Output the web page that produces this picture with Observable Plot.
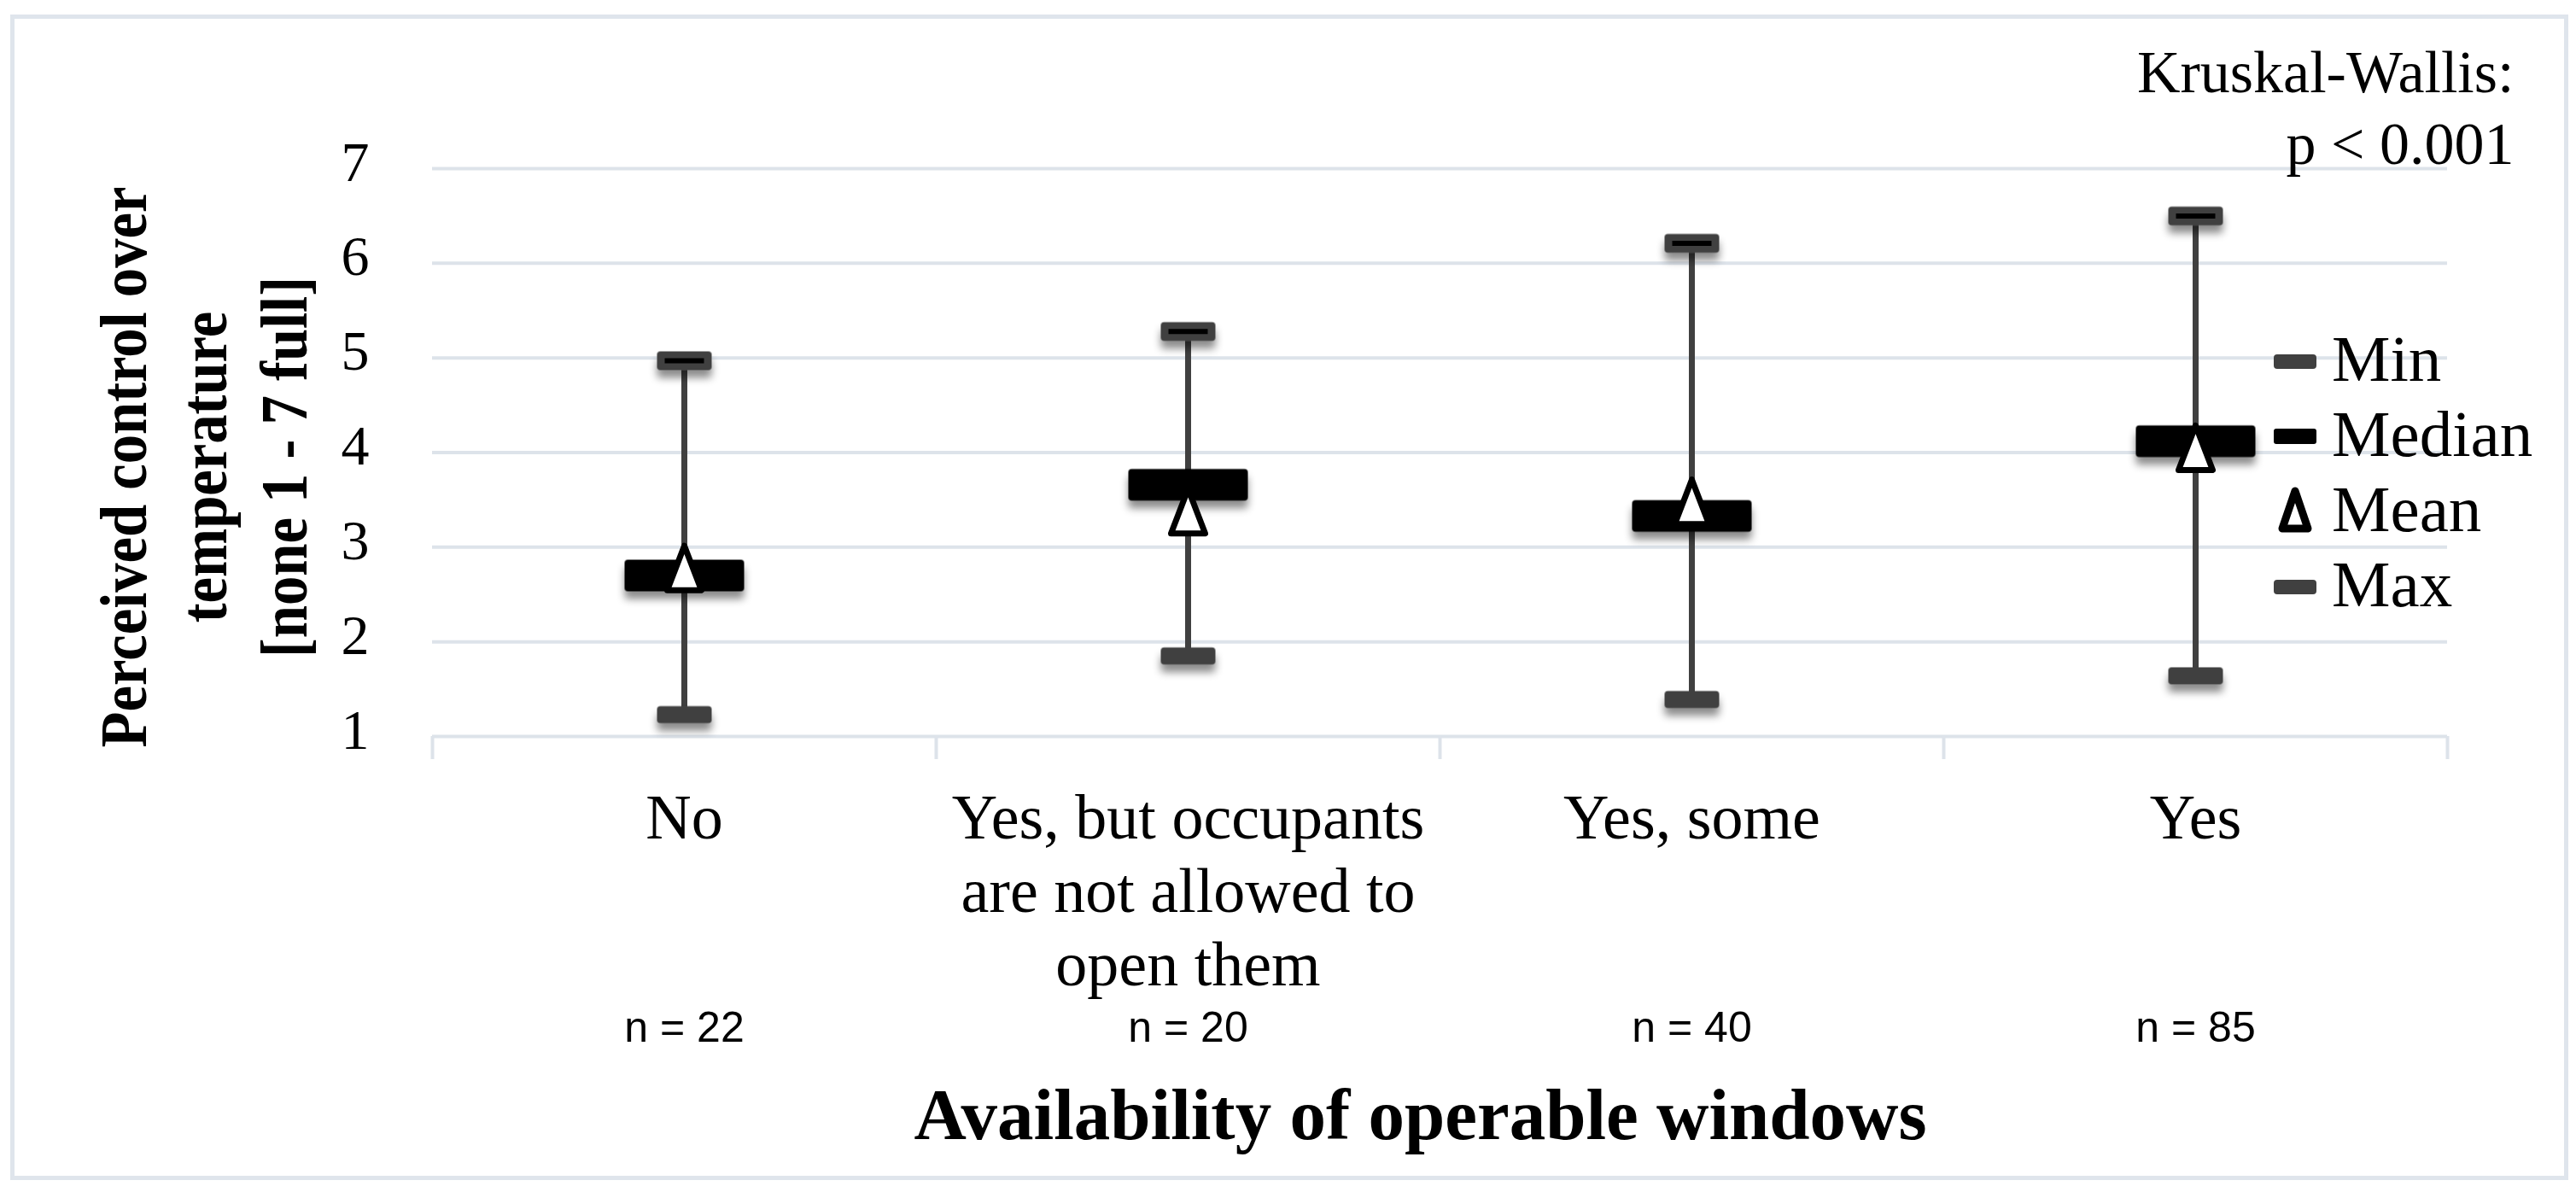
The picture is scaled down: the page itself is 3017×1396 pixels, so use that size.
<!DOCTYPE html>
<html>
<head>
<meta charset="utf-8">
<script src="https://cdn.jsdelivr.net/npm/d3@7"></script>
<script src="https://cdn.jsdelivr.net/npm/@observablehq/plot@0.6"></script>
<style>
  html, body { margin: 0; padding: 0; background: #fff; }
  #wrap { position: relative; width: 3017px; height: 1396px; background: #fff; overflow: hidden; }
  #border { position: absolute; left: 12px; top: 17px; width: 2996px; height: 1365px; border: 5px solid #dfe5ec; box-sizing: border-box; pointer-events: none; }
  #legend { position: absolute; left: 2655px; top: 376px; font-family: "Liberation Serif", serif; font-size: 77px; color: #000; }
  .lg-row { display: flex; align-items: center; height: 88px; line-height: 88px; }
  .lg-row svg { width: 66px; height: 70px; margin-right: 10px; position: relative; top: 6px; }
</style>
</head>
<body>
<div id="wrap">
  <div id="chart"></div>
  <div id="legend"></div>
  <div id="border"></div>
</div>
<script>
// ---- data ----
const categories = ["No", "Yes, but occupants\nare not allowed to\nopen them", "Yes, some", "Yes"];
const sampleSizes = [22, 20, 40, 85];
const minValues = [1.23, 1.85, 1.39, 1.64];
const medianValues = [2.70, 3.66, 3.33, 4.12];
const meanValues = [2.78, 3.38, 3.48, 4.05];
const maxValues = [4.97, 5.28, 6.21, 6.50];
const yTicks = [1, 2, 3, 4, 5, 6, 7];
const seriesNames = ["Min", "Median", "Mean", "Max"];
const yLabel = "Perceived control over\ntemperature\n[none 1 - 7 full]";
const xLabel = "Availability of operable windows";
const testNote = "Kruskal-Wallis:\np < 0.001";

const rows = categories.map((c, i) => ({
  pos: i + 0.5, cat: c, n: sampleSizes[i],
  min: minValues[i], median: medianValues[i], mean: meanValues[i], max: maxValues[i]
}));
const bounds = d3.range(categories.length + 1);

// ---- custom marker shapes ----
function roundedRect(w, h, r) {
  return {draw(ctx) {
    const x0 = -w / 2, y0 = -h / 2, x1 = w / 2, y1 = h / 2;
    if (r <= 0) { ctx.moveTo(x0, y0); ctx.lineTo(x1, y0); ctx.lineTo(x1, y1); ctx.lineTo(x0, y1); ctx.closePath(); return; }
    ctx.moveTo(x0 + r, y0);
    ctx.lineTo(x1 - r, y0);
    ctx.arcTo(x1, y0, x1, y0 + r, r);
    ctx.lineTo(x1, y1 - r);
    ctx.arcTo(x1, y1, x1 - r, y1, r);
    ctx.lineTo(x0 + r, y1);
    ctx.arcTo(x0, y1, x0, y1 - r, r);
    ctx.lineTo(x0, y0 + r);
    ctx.arcTo(x0, y0, x0 + r, y0, r);
    ctx.closePath();
  }};
}
function triangle(w, h) {
  return {draw(ctx) {
    ctx.moveTo(0, -h / 2);
    ctx.lineTo(w / 2, h / 2);
    ctx.lineTo(-w / 2, h / 2);
    ctx.closePath();
  }};
}
const capMin = roundedRect(64, 20, 4);
const capMax = roundedRect(64, 22, 4);
const capDash = roundedRect(46, 6, 0);
const medBox = roundedRect(140, 37, 4);
const meanTri = triangle(40, 52);

const DARK = "#404040";
const GRID = "#dde3ea";

const chart = Plot.plot({
  width: 3017,
  height: 1396,
  marginLeft: 506,
  marginRight: 151,
  marginTop: 197,
  marginBottom: 534,
  x: {type: "linear", domain: [0, categories.length]},
  y: {domain: [1, 7]},
  style: {fontFamily: "'Liberation Serif', serif", fontSize: "66px", color: "#000", background: "transparent"},
  marks: [
    Plot.gridY(yTicks, {stroke: GRID, strokeOpacity: 1, strokeWidth: 4}),
    Plot.axisX(bounds, {tickSize: 27, tickFormat: () => "", stroke: GRID, strokeWidth: 4, label: null}),
    Plot.axisY(yTicks, {tickSize: 0, tickPadding: 74, tickFormat: d => String(d), fontSize: 66, dy: -7, label: null}),
    Plot.text(rows, {x: "pos", text: "cat", frameAnchor: "bottom", lineAnchor: "top", dy: 59, fontSize: 74, lineHeight: 1.16}),
    Plot.text(rows, {x: "pos", text: d => `n = ${d.n}`, frameAnchor: "bottom", lineAnchor: "top", dy: 322, fontSize: 50, fontFamily: "'Liberation Sans', sans-serif"}),
    Plot.text([xLabel], {text: d => d, frameAnchor: "bottom", lineAnchor: "top", dy: 411, dx: -23, fontSize: 85, fontWeight: "bold"}),
    Plot.text([yLabel], {text: d => d, frameAnchor: "left", rotate: -90, lineAnchor: "top", textAnchor: "middle", dx: -403, dy: 17, fontSize: 78, fontWeight: "bold", lineHeight: 1.21}),
    Plot.text([testNote], {text: d => d, frameAnchor: "top-right", textAnchor: "end", lineAnchor: "top", dx: 78, dy: -149, fontSize: 70, lineHeight: 1.2}),
    Plot.ruleX(rows, {x: "pos", y1: "min", y2: "max", stroke: DARK, strokeWidth: 7}),
    Plot.dot(rows, {x: "pos", y: "min", symbol: capMin, fill: DARK, stroke: null, r: 5}),
    Plot.dot(rows, {x: "pos", y: "max", symbol: capMax, fill: DARK, stroke: null, r: 5}),
    Plot.dot(rows, {x: "pos", y: "max", symbol: capDash, fill: "#000", stroke: null, r: 5}),
    Plot.dot(rows, {x: "pos", y: "median", symbol: medBox, fill: "#000", stroke: null, r: 5}),
    Plot.dot(rows, {x: "pos", y: "mean", symbol: meanTri, fill: "#fff", stroke: "#000", strokeWidth: 7, strokeLinejoin: "round", r: 5})
  ]
});
document.getElementById("chart").appendChild(chart);

// condense the rotated y title along its reading direction
chart.querySelectorAll("text").forEach(t => {
  if (t.textContent.startsWith("Perceived")) {
    const tr = t.getAttribute("transform") || "";
    t.setAttribute("transform", (tr + " scale(0.88,1)").trim());
  }
});

// soft drop shadow under markers
const svg = d3.select(chart);
const defs = svg.insert("defs", ":first-child");
const flt = defs.append("filter").attr("id", "mk-shadow")
  .attr("x", "-50%").attr("y", "-50%").attr("width", "200%").attr("height", "260%");
flt.append("feDropShadow").attr("dx", 0).attr("dy", 9).attr("stdDeviation", 5)
  .attr("flood-color", "#000").attr("flood-opacity", 0.45);
const dotGroups = chart.querySelectorAll('g[aria-label="dot"]');
[0, 1, 3].forEach(i => { if (dotGroups[i]) dotGroups[i].setAttribute("filter", "url(#mk-shadow)"); });

// ---- legend ----
const legendShapes = {
  Min: `<rect x="8" y="24" width="50" height="17" rx="4" fill="${DARK}"/>`,
  Median: `<rect x="8" y="23" width="50" height="18" rx="3" fill="#000"/>`,
  Mean: `<path d="M33 8 L48 52 L18 52 Z" fill="#fff" stroke="#000" stroke-width="9" stroke-linejoin="round"/>`,
  Max: `<rect x="8" y="24" width="50" height="17" rx="4" fill="${DARK}"/>`
};
const legend = document.getElementById("legend");
seriesNames.forEach(name => {
  const row = document.createElement("div");
  row.className = "lg-row";
  row.innerHTML = `<svg viewBox="0 0 66 70">${legendShapes[name]}</svg><span>${name}</span>`;
  legend.appendChild(row);
});
</script>
</body>
</html>
